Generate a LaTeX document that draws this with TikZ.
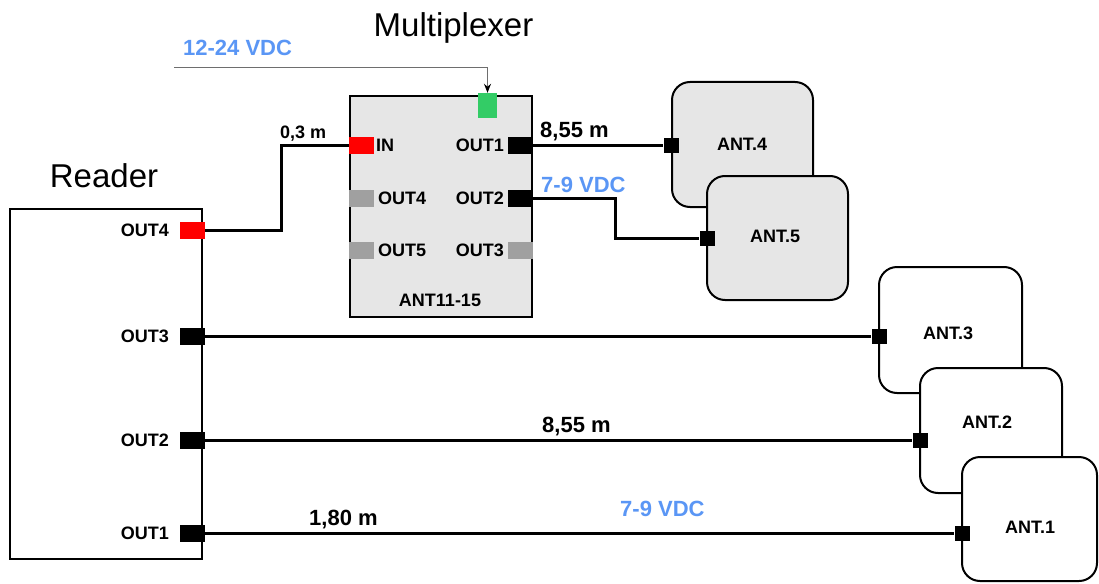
\documentclass[tikz,border=0pt]{standalone}
\usepackage{fontspec}
\setmainfont{Liberation Sans}
\usetikzlibrary{arrows.meta}
\definecolor{vblue}{RGB}{90,150,245}
\definecolor{pgray}{RGB}{160,160,160}
\definecolor{bfill}{RGB}{230,230,230}
\definecolor{pgreen}{RGB}{51,204,102}
\definecolor{agray}{RGB}{110,110,110}
\tikzset{
  box/.style={draw=black, line width=2pt, inner sep=0pt},
  antbox/.style={box, rounded corners=18pt, minimum width=141pt, minimum height=125pt},
  port/.style={inner sep=0pt, minimum width=25pt, minimum height=17pt, fill=black},
  aport/.style={inner sep=0pt, minimum width=15pt, minimum height=15pt, fill=black},
  wire/.style={draw=black, line width=3pt},
  lbl/.style={inner sep=0pt, font=\fontsize{18}{20}\selectfont\bfseries},
  val/.style={inner sep=0pt, font=\fontsize{22}{24}\selectfont\bfseries},
  ttl/.style={inner sep=0pt, font=\fontsize{33}{36}\selectfont},
}
\begin{document}
\begin{tikzpicture}[x=1pt,y=-1pt]
\useasboundingbox[fill=white] (0,0) rectangle (1099,583);

% titles
\node[ttl, anchor=base] (tread) at (104,187) {Reader};
\node[ttl, anchor=base] (tmux) at (453.5,37) {Multiplexer};

% Reader box
\node[box, minimum width=192pt, minimum height=350pt] (reader) at (106,384) {};
\node[port, fill=red] (r4) at (192.5,230.5) {};
\node[port] (r3) at (192.5,336) {};
\node[port] (r2) at (192.5,440.5) {};
\node[port] (r1) at (192.5,533) {};
\node[lbl, anchor=east] (lr4) at (169,230.5) {OUT4};
\node[lbl, anchor=east] (lr3) at (169,336) {OUT3};
\node[lbl, anchor=east] (lr2) at (169,440.5) {OUT2};
\node[lbl, anchor=east] (lr1) at (169,533) {OUT1};

% Multiplexer
\node[box, fill=bfill, minimum width=182pt, minimum height=221pt] (mux) at (441,206.5) {};
\node[inner sep=0pt, minimum width=19pt, minimum height=25pt, fill=pgreen] (pw) at (487.5,105.5) {};
\node[port, fill=red] (min) at (361.5,145.5) {};
\node[port, fill=pgray] (m4) at (361.5,198.5) {};
\node[port, fill=pgray] (m5) at (361.5,250.5) {};
\node[port] (m1) at (520,145.5) {};
\node[port] (m2) at (520,198.5) {};
\node[port, fill=pgray] (m3) at (520,250.5) {};
\node[lbl, anchor=west] (lmin) at (376,145.5) {IN};
\node[lbl, anchor=west] (lm4) at (378,198.5) {OUT4};
\node[lbl, anchor=west] (lm5) at (378,250.5) {OUT5};
\node[lbl, anchor=east] (lm1) at (504,145.5) {OUT1};
\node[lbl, anchor=east] (lm2) at (504,198.5) {OUT2};
\node[lbl, anchor=east] (lm3) at (504,250.5) {OUT3};
\node[lbl] (lmux) at (440,300) {ANT11-15};

% supply arrow
\coordinate (vs) at (174,67.5);
\draw[agray, line width=1.3pt, -{Stealth[length=9pt,width=7pt,black]}] (vs) -| (pw.north);
\node[val, text=vblue, anchor=base west] (v1) at (183,56) {12-24 VDC};

% antennas 4,5
\node[antbox, fill=bfill] (a4) at (742.5,144.5) {};
\node[antbox, fill=bfill, minimum height=124pt] (a5) at (777.5,238) {};
\node[lbl] (la4) at (742,144) {ANT.4};
\node[lbl] (la5) at (775,236) {ANT.5};
\node[aport] (p4) at (a4.west |- m1) {};
\node[aport] (p5) at (707,238.5) {};

% antennas 3,2,1
\node[antbox, fill=white, minimum width=143pt, minimum height=126pt] (a3) at (950.5,330) {};
\node[antbox, fill=white, minimum width=142pt] (a2) at (991,430.5) {};
\node[antbox, fill=white, minimum width=135pt, minimum height=124pt] (a1) at (1029.5,519) {};
\node[lbl] (la3) at (948,333) {ANT.3};
\node[lbl] (la2) at (987,422) {ANT.2};
\node[lbl] (la1) at (1030,527) {ANT.1};
\node[aport] (p3) at (879,336) {};
\node[aport] (p2) at (920,440.5) {};
\node[aport] (p1) at (962,533) {};

% wires
\coordinate (k1) at (281.5,230.5);
\draw[wire] (r4.east) -- (k1) |- (min.west);
\draw[wire] (m1.east) -- (p4.west);
\coordinate (k2) at (615,198.5);
\draw[wire] (m2.east) -- (k2) |- (p5.west);
\draw[wire] (r3.east) -- (p3.west);
\draw[wire] (r2.east) -- (p2.west);
\draw[wire] (r1.east) -- (p1.west);

% wire labels
\node[val, anchor=base west, font=\fontsize{18}{20}\selectfont\bfseries] (w0) at (280,138) {0,3 m};
\node[val, anchor=base west] (w1) at (540,137) {8,55 m};
\node[val, anchor=base west, text=vblue] (w2) at (541,192) {7-9 VDC};
\node[val, anchor=base west] (w3) at (542,432) {8,55 m};
\node[val, anchor=base west] (w4) at (309,525) {1,80 m};
\node[val, anchor=base west, text=vblue] (w5) at (620,516) {7-9 VDC};
\end{tikzpicture}
\end{document}
